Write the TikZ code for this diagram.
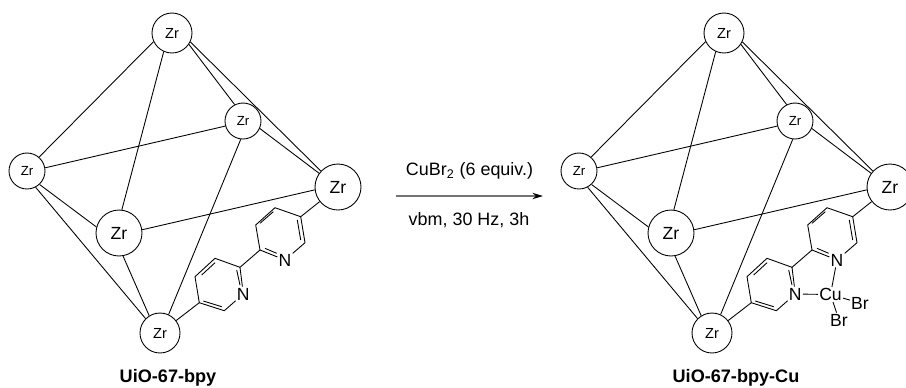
\documentclass[tikz,border=0pt]{standalone}
\usepackage{fontspec}
\setmainfont{Liberation Sans}
\usetikzlibrary{arrows.meta,calc}
\begin{document}
\begin{tikzpicture}
[x=0.02cm, y=-0.02cm, line width=0.5pt, font=\fontsize{7}{8}\selectfont,
zrbig/.style={circle, draw, fill=white, inner sep=0pt, minimum size=0.92cm, font=\fontsize{10}{11}\selectfont},
zrmid/.style={circle, draw, fill=white, inner sep=0pt, minimum size=0.8cm, font=\fontsize{8.3}{10}\selectfont},
zrsmall/.style={circle, draw, fill=white, inner sep=0pt, minimum size=0.72cm, font=\fontsize{7.5}{9}\selectfont},
atom/.style={inner sep=0.5pt, font=\fontsize{10}{11}\selectfont},
caption/.style={font=\fontsize{10.3}{12}\selectfont\bfseries},
reagent/.style={font=\fontsize{10.2}{12}\selectfont}]

\clip (0,0) rectangle (906,387);

\foreach \p/\dx in {a/0,b/552} {
\begin{scope}[shift={(\dx,0)}, name prefix=\p-]
  \node[zrmid]   (zrtop)    at (172,33)  {Zr};
  \node[zrsmall] (zrback)   at (243,121) {Zr};
  \node[zrsmall] (zrleft)   at (27,171)  {Zr};
  \node[zrbig]   (zrfront)  at (119,233) {Zr};
  \node[zrbig]   (zrright)  at (338,187) {Zr};
  \node[zrmid]   (zrbottom) at (160,333) {Zr};

  \draw (zrtop.205) -- (zrleft.49);
  \draw (zrtop.246) -- (zrfront.83);
  \draw (zrtop.-34) -- (zrback.117);
  \draw (zrtop.-26) -- (zrright.137);
  \draw (zrleft.10) -- (zrback.196);
  \draw (zrleft.-47) -- (zrfront.165);
  \draw (zrleft.-62) -- (zrbottom.135);
  \draw (zrback.-24) -- (zrright.144);
  \draw (zrback.263) -- (zrbottom.65);
  \draw (zrfront.8) -- (zrright.187);
  \draw (zrfront.-80) -- (zrbottom.122);

  % bipyridine linker
  \coordinate (ca5) at (300.7,216.7);
  \coordinate (ca4) at (275,207.7);
  \coordinate (ca3) at (255.7,225);
  \coordinate (ca2) at (260,250);
  \coordinate (ca6) at (305,242.7);
  \node[atom] (na) at (285,260) {N};
  \coordinate (cb2) at (240,267.3);
  \coordinate (cb3) at (215,258.3);
  \coordinate (cb4) at (195,276.7);
  \coordinate (cb5) at (199.3,302.7);
  \coordinate (cb6) at (224.3,310.7);
  \node[atom] (nb) at (243.3,294) {N};

  \draw (zrright) -- (ca5) -- (ca4) -- (ca3) -- (ca2) -- (na) -- (ca6) -- (ca5);
  \draw (ca2) -- (cb2) -- (cb3) -- (cb4) -- (cb5) -- (cb6) -- (nb) -- (cb2);
  \draw (cb5) -- (zrbottom);

  \draw (297.3,220) -- (300.7,240);
  \draw (273.3,211.7) -- (260,223.3);
  \draw (265,248.3) -- (276.7,253.3);
  \draw (236.7,270) -- (240,285);
  \draw (215,262.7) -- (201.7,275);
  \draw (203.3,301) -- (221.7,306.7);
\end{scope}
}

\begin{scope}[shift={(552,0)}, name prefix=b-]
  \node[atom] (cu) at (278.5,294.5) {Cu};
  \node[atom] (brright) at (308,303) {Br};
  \node[atom] (brlow) at (287,320) {Br};
  \draw (na) -- (cu);
  \draw (nb) -- (cu);
  \draw (cu) -- (brlow);
  \draw (cu) -- (brright);
\end{scope}

\node[caption] (bpy) at (168,378) {UiO-67-bpy};
\node[caption] (bpycu) at (736,378) {UiO-67-bpy-Cu};

\coordinate (arrowin) at (396,196);
\coordinate (arrowout) at (543,196);
\draw[-{Stealth[length=6pt,width=3.6pt,black]}, draw=black!55, line width=0.9pt] (arrowin) -- (arrowout);
\node[reagent] (cubr) at (469.5,171) {CuBr\textsubscript{2} (6 equiv.)};
\node[reagent] (vbm) at (469,220) {vbm, 30 Hz, 3h};
\end{tikzpicture}
\end{document}
